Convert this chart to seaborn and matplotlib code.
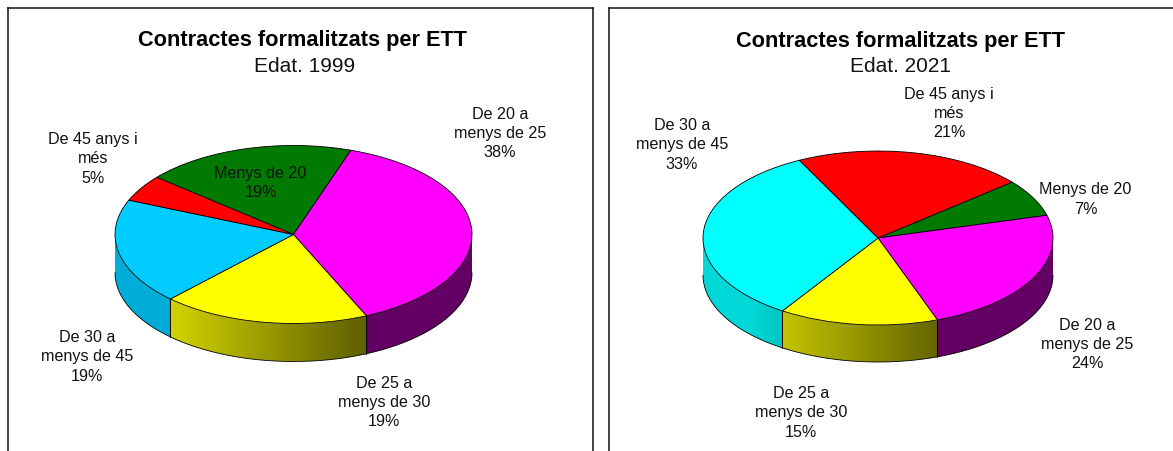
import numpy as np
import matplotlib
matplotlib.use("Agg")
import matplotlib.pyplot as plt
from matplotlib.patches import Polygon
import seaborn as sns

# ---- data ----
categories = ["Menys de 20", "De 20 a\nmenys de 25", "De 25 a\nmenys de 30",
              "De 30 a\nmenys de 45", "De 45 anys i\nmés"]
values_1999 = [19.1, 38.1, 18.8, 19.2, 4.8]
values_2021 = [6.9, 23.7, 14.7, 33.4, 21.3]
colors_1999 = ["#007A00", "#FF00FF", "#FFFF00", "#00CCFF", "#FF0000"]
colors_2021 = ["#007A00", "#FF00FF", "#FFFF00", "#00FFFF", "#FF0000"]
chart_title = "Contractes formalitzats per ETT"
subtitle_1999 = "Edat. 1999"
subtitle_2021 = "Edat. 2021"

# ---- layout (pixels of the 1173x452 picture) ----
W, H = 1173, 452
panel_1999 = dict(box=(8, 593, 9, 460), centre=(293.5, 235.5), rx=178.5, ry=89, depth=38,
                  start=140, title_x=302, sub_x=305,
                  label_pos=[(260.5, 183), (500, 133.5), (384, 402.5), (87, 357), (93, 159)])
panel_2021 = dict(box=(609, 1180, 9, 460), centre=(878, 239), rx=175, ry=87, depth=37,
                  start=40, title_x=900, sub_x=901,
                  label_pos=[(1085.5, 199.5), (1087, 344.5), (801, 413), (682, 145), (949, 113.5)])

sns.set_theme(style="white")
plt.rcParams["font.family"] = ["Liberation Sans", "DejaVu Sans"]
fig = plt.figure(figsize=(W / 100, H / 100), dpi=100, facecolor="white")


def brightness(x):
    return np.clip(0.80 - 0.42 * (x + 0.62), 0.39, 0.85)


def draw_panel(values, colors, subtitle, p):
    l, r, t, b = p["box"]
    cx, cy = p["centre"]
    rx, ry = p["rx"], p["ry"]
    ax = fig.add_axes([l / W, (H - b) / H, (r - l) / W, (b - t) / H])
    palette = sns.color_palette(colors)
    wedges, _ = ax.pie(values, colors=palette, startangle=p["start"], counterclock=False,
                       radius=1.0, wedgeprops=dict(edgecolor="black", linewidth=0.6))
    for w in wedges:
        w.set_zorder(3)
    ax.set_frame_on(True)
    ax.spines["bottom"].set_visible(False)
    for s in ax.spines.values():
        s.set_color("#111111")
        s.set_linewidth(1.1)

    depth = p["depth"] / ry
    # extruded rim of the pie: follows the wedges of the library's own pie
    for w, c in zip(wedges, palette):
        a0, a1 = sorted((w.theta1, w.theta2))
        th = np.radians(np.append(np.arange(a0, a1, 0.25), a1))
        # sample both turns so a wedge crossing 360 degrees stays continuous
        front = np.sin(th) <= 0
        if front.sum() < 2:
            continue
        th = th[front]
        xs, ys = np.cos(th), np.sin(th)
        columns = np.linspace(xs.min(), xs.max(), 300)
        grad = np.array([np.array(c) * brightness(x) for x in columns])[None, :, :]
        poly = Polygon(np.r_[np.c_[xs, ys], np.c_[xs, ys - depth][::-1]], closed=True,
                       transform=ax.transData, facecolor="none", edgecolor="none")
        ax.add_patch(poly)
        ax.imshow(grad, extent=(xs.min(), xs.max(), ys.min() - depth, ys.max()),
                  aspect="auto", interpolation="bilinear", origin="lower",
                  zorder=1, clip_path=poly)
        ax.plot(xs, ys - depth, color="black", lw=0.6, zorder=2)
        for k in (0, -1):
            if abs(ys[k]) > 0.02:  # no line on the silhouette of the disc
                ax.plot([xs[k], xs[k]], [ys[k], ys[k] - depth], color="black", lw=0.6, zorder=2)

    ax.set_aspect("auto")
    ax.set_xlim((l - cx) / rx, (r - cx) / rx)
    ax.set_ylim((cy - b) / ry, (cy - t) / ry)

    # labels
    total = sum(values)
    for name, v, (px, py) in zip(categories, values, p["label_pos"]):
        ax.text((px - cx) / rx, (cy - py) / ry, f"{name}\n{v / total * 100:.0f}%",
                ha="center", va="center", ma="center", fontsize=11.6, color="#111111",
                linespacing=1.36, zorder=5)
    ax.text((p["title_x"] - cx) / rx, (cy - 41) / ry, chart_title, ha="center", va="center",
            fontsize=15.7, fontweight="bold", color="black", zorder=5)
    ax.text((p["sub_x"] - cx) / rx, (cy - 67) / ry, subtitle, ha="center", va="center",
            fontsize=15.0, color="#111111", zorder=5)


draw_panel(values_1999, colors_1999, subtitle_1999, panel_1999)
draw_panel(values_2021, colors_2021, subtitle_2021, panel_2021)
fig.savefig("out.png", dpi=100, facecolor="white")
